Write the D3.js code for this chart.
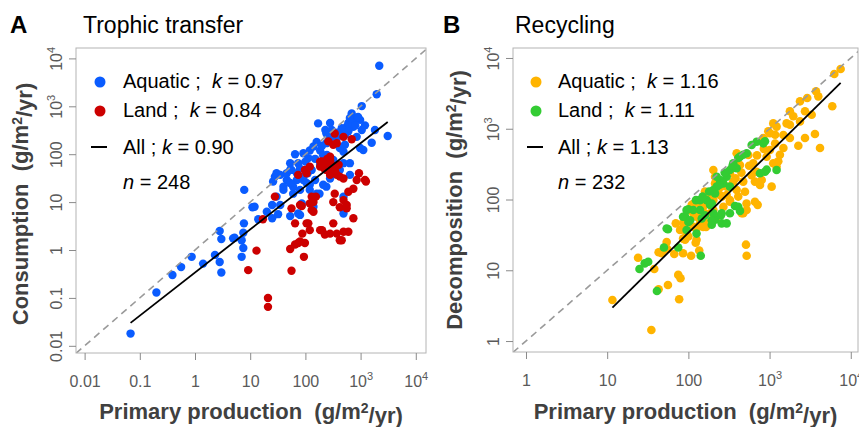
<!DOCTYPE html>
<html>
<head>
<meta charset="utf-8">
<script src="https://cdn.jsdelivr.net/npm/d3@7"></script>
<style>
  body { margin: 0; background: #fff; }
  svg { display: block; }
  text { font-family: "Liberation Sans", Arial, Helvetica, sans-serif; white-space: pre; }
</style>
</head>
<body>
<svg id="fig" width="859" height="427"></svg>
<script>
// ---- Panel A: trophic transfer, [primary production, consumption] in g/m2/yr ----
const trophicAquatic = [
  [0.068,0.018],[0.2,0.13],[0.39,0.30],[0.56,0.44],[0.87,0.72],[1.4,0.52],[2.3,0.79],[2.8,0.56],[3.0,0.34],
  [2.8,2.5],[3.0,1.7],[5.2,1.8],[7.0,0.72],[7.5,1.1],[7.0,1.6],[7.5,2.3],[7.7,3.6],[7.8,18],[11,7.8],[14,4.4],
  [20,6.3],[25,8.7],[25,4.6],[26,27],[32,5.6],[53,5.1],[74,5.8],[80,5.4],[490,5.8],[490,13],[28,34],[35,37],
  [40,18],[46,29],[53,47],[60,21],[70,29],[80,18],[92,29],[120,23],[160,15],[210,23],[86,9.4],[60,15],[30,13],
  [35,8.7],[12,8.0],[120,18],[140,8.0],[180,15],[240,21],[280,31],[370,47],[490,65],[640,37],[640,65],[420,47],
  [40,21],[30,40],[46,40],[53,25],[92,34],[105,25],[130,47],[150,29],[74,65],[53,65],[65,100],[92,105],[120,120],
  [160,180],[140,145],[185,120],[240,170],[230,320],[170,440],[240,270],[300,320],[370,215],[420,270],[560,375],
  [690,710],[740,375],[980,520],[1050,320],[850,230],[1050,1010],[1120,122],[490,113],[1590,174],[1820,320],
  [3100,240],[1960,1780],[2180,7000],[280,450],[455,350],[600,450],[850,570],[520,158],[420,135],[980,135],
  [113,83],[56,47],[4.9,1.75],[320,76],[185,60],[245,96],[640,570],
  [700,450],[800,400],[900,600],[1200,400],[600,300],[520,250],[380,280],[330,250],[270,200],[200,150],
  [210,95],[150,80],[100,70],[80,50],[110,40],[70,40]
];
const trophicLand = [
  [13,0.97],[9.2,0.38],[21,0.10],[21,0.065],[17,4.4],[28,13],[56,7.4],[65,3.6],[53,1.05],[56,0.37],[65,1.3],
  [74,1.4],[86,8.3],[88,2.2],[98,1.4],[94,0.72],[113,3.6],[120,2.6],[120,9.4],[140,6.3],[185,2.6],[225,2.1],
  [280,2.2],[320,3.6],[370,2.2],[490,2.4],[600,2.4],[420,1.6],[740,4.6],[320,10],[420,7.8],[560,8.7],[200,2.6],
  [130,6.8],[140,10],[130,13],[155,13],[340,15],[490,11],[600,16.5],[740,19],[850,29],[935,40],[1250,27],
  [74,37],[98,47],[120,55],[210,65],[240,47],[280,37],[420,34],[340,51],[340,270],[490,230],[690,205],[370,170],
  [260,185],[240,55],[185,55],[320,47],[370,37],[490,31],[280,89],[105,40],[1200,29],[80,8.7],[560,7.4],
  [105,3.6],[455,1.6],[80,1.5],[200,71],[320,158],[185,70],[250,80],[300,60],[400,60],
  [220,50],[260,62],[290,44],[350,42],[280,75]
];
const trophicStats = { kAquatic: "0.97", kLand: "0.84", kAll: 0.90, logIntercept: -0.47, n: 248 };

// ---- Panel B: recycling, [primary production, decomposition] in g/m2/yr ----
const recyclingAquatic = [
  [11.6,3.8],[35,1.43],[24,15],[38,10.4],[43,5.4],[56,6.2],[77,3.9],[75,8.6],[80,7.7],[43,18],[54,25],[67,17],
  [86,17.4],[70,46],[86,28],[95,33],[108,16],[123,24.5],[136,19],[152,41],[165,41],[126,64],[117,88],[105,71],
  [185,64],[223,57],[270,79],[325,93],[453,64],[520,88],[713,84],[660,93],[512,23],[522,16],[55,20],[91,27],
  [100,30],[126,39],[115,64],[110,84],[168,46],[152,79],[168,98],[185,110],[1220,1070],[1620,1190],[1480,816],
  [1170,620],[1110,325],[1060,152],[522,71],[498,129],[693,247],[800,189],[660,179],[474,179],[920,403],
  [1010,500],[630,325],[547,425],[432,307],[393,450],[325,235],[357,179],[393,136],[296,152],[325,98],[296,116],
  [245,116],[203,98],[185,116],[203,71],[152,67],[139,46],[126,57],[115,41],[86,46],[79,37],[126,27],[213,210],
  [203,261],[1110,1190],[1010,862],[7500,7000],[6270,5940],[5920,2080],[3730,3380],[3980,2870],[2910,2720],
  [2370,2440],[3300,1580],[2730,1770],[2370,1270],[1960,1500],[1780,1770],[1780,1140],[3620,843],[2730,740],
  [2260,576],[4180,535],[1780,740],[1480,535],[1170,824],[964,920],[837,740],[1340,430],[1280,347],[47,17.4],
  [213,169],[411,110],[762,160],[1220,291],[474,64],
  [560,300],[700,420],[850,520],[600,220],[450,240],[380,200],[250,150],[160,130],[140,85],[260,110]
];
const recyclingLand = [
  [41,5.1],[25,10.4],[29,12.5],[32,13.2],[50,21],[56,38],[75,21],[86,57],[100,48],[100,73],[126,33],[142,16],
  [146,54],[194,88],[213,52],[257,46],[252,60],[325,64],[375,81],[432,69],[91,58],[124,98],[139,98],[139,71],
  [160,60],[693,656],[837,622],[602,589],[522,450],[432,403],[357,325],[393,276],[325,261],[296,210],[245,189],
  [269,169],[223,152],[203,136],[325,152],[878,247],[762,235],[1220,261],[168,98],[185,84],[115,71],[203,64],
  [411,79],[257,64],[95,71],[105,51],[95,37],[54,39],[296,46],[194,44],[878,665],[474,430],[411,386],[921,264],
  [223,210],[213,122],[194,51],
  [280,240],[350,300],[240,160],[180,130],[150,110]
];
const recyclingStats = { kAquatic: "1.16", kLand: "1.11", kAll: 1.13, logIntercept: -0.73, n: 232 };

// Tick positions (powers of ten) for each panel
const trophicTicks = [0.01, 0.1, 1, 10, 100, 1000, 10000];
const recyclingTicks = [1, 10, 100, 1000, 10000];

const svg = d3.select("#fig");

function minorTicks(majors) {
  const out = [];
  for (let i = 0; i < majors.length - 1; i++)
    for (let m = 2; m <= 9; m++) out.push(majors[i] * m);
  return out;
}

// writes a tick label; thousands and above shown as 10 with superscript exponent
function writeLabel(textSel, v) {
  const e = Math.round(Math.log10(v));
  if (e >= 3) {
    textSel.append("tspan").text("10");
    textSel.append("tspan").attr("font-size", "11px").attr("dy", "-0.6em").text(String(e));
  } else {
    textSel.text(e < 0 ? v.toFixed(-e) : String(v));
  }
}

function drawPanel(cfg) {
  const g = svg.append("g");
  const x = d3.scaleLog().domain(cfg.xLim).range([cfg.left, cfg.right]);
  const y = d3.scaleLog().domain(cfg.yLim).range([cfg.bottom, cfg.top]);

  const clipId = "clip" + cfg.letter;
  svg.append("clipPath").attr("id", clipId).append("rect")
    .attr("x", cfg.left).attr("y", cfg.top)
    .attr("width", cfg.right - cfg.left).attr("height", cfg.bottom - cfg.top);

  const plot = g.append("g").attr("clip-path", `url(#${clipId})`);

  // points
  cfg.series.forEach(s => {
    plot.selectAll(null).data(s.data).join("circle")
      .attr("cx", d => x(d[0])).attr("cy", d => y(d[1]))
      .attr("r", cfg.r).attr("fill", s.color);
  });

  // 1:1 reference line
  const lo = Math.min(cfg.xLim[0], cfg.yLim[0]), hi = Math.max(cfg.xLim[1], cfg.yLim[1]);
  plot.append("line")
    .attr("x1", x(lo)).attr("y1", y(lo)).attr("x2", x(hi)).attr("y2", y(hi))
    .attr("stroke", "#9a9a9a").attr("stroke-width", 1.6).attr("stroke-dasharray", "7,5");

  // fitted power law across the data range
  const all = cfg.series.flatMap(s => s.data);
  const [xmin, xmax] = d3.extent(all, d => d[0]);
  const fit = v => Math.pow(10, cfg.stats.logIntercept + cfg.stats.kAll * Math.log10(v));
  plot.append("line")
    .attr("x1", x(xmin)).attr("y1", y(fit(xmin))).attr("x2", x(xmax)).attr("y2", y(fit(xmax)))
    .attr("stroke", "#000").attr("stroke-width", 1.8);

  // box
  g.append("rect")
    .attr("x", cfg.left).attr("y", cfg.top)
    .attr("width", cfg.right - cfg.left).attr("height", cfg.bottom - cfg.top)
    .attr("fill", "none").attr("stroke", "#b4b4b4").attr("stroke-width", 1);

  const tickColor = "#8a8a8a", labelColor = "#5a5a5a";

  // x axis
  const xMajor = cfg.ticks.filter(v => v >= cfg.xLim[0] && v <= cfg.xLim[1]);
  const xg = g.append("g").attr("transform", `translate(0,${cfg.bottom})`);
  xg.call(d3.axisBottom(x).tickValues(minorTicks(xMajor)).tickSize(4).tickSizeOuter(0).tickFormat(""));
  xg.call(d3.axisBottom(x).tickValues(xMajor).tickSize(7).tickSizeOuter(0).tickFormat(""));
  xg.select(".domain").remove();
  xg.selectAll("line").attr("stroke", tickColor);
  xg.selectAll(".tick").filter(d => xMajor.includes(d)).each(function (d) {
    const t = d3.select(this).append("text")
      .attr("y", 34).attr("text-anchor", "middle")
      .attr("fill", labelColor).attr("font-size", "16px");
    writeLabel(t, d);
  });

  // y axis
  const yMajor = cfg.ticks.filter(v => v >= cfg.yLim[0] && v <= cfg.yLim[1]);
  const yg = g.append("g").attr("transform", `translate(${cfg.left},0)`);
  yg.call(d3.axisLeft(y).tickValues(minorTicks(yMajor)).tickSize(4).tickSizeOuter(0).tickFormat(""));
  yg.call(d3.axisLeft(y).tickValues(yMajor).tickSize(7).tickSizeOuter(0).tickFormat(""));
  yg.select(".domain").remove();
  yg.selectAll("line").attr("stroke", tickColor);
  yg.selectAll(".tick").filter(d => yMajor.includes(d)).each(function (d) {
    const t = d3.select(this).append("text")
      .attr("transform", "translate(-14,0) rotate(-90)")
      .attr("text-anchor", "middle")
      .attr("fill", labelColor).attr("font-size", "16px");
    writeLabel(t, d);
  });

  // axis titles
  const title = (sel, main) => {
    sel.append("tspan").text(main + "  (g/m");
    sel.append("tspan").attr("font-size", "14px").attr("dy", "-0.45em").text("2");
    sel.append("tspan").attr("dy", "0.45em").text("/yr)");
  };
  g.append("text").attr("x", (cfg.left + cfg.right) / 2).attr("y", 419)
    .attr("text-anchor", "middle").attr("font-weight", "bold").attr("font-size", "22px")
    .attr("fill", "#404040").call(title, "Primary production");
  g.append("text")
    .attr("transform", `translate(${cfg.yTitleX},${cfg.yTitleY}) rotate(-90)`)
    .attr("text-anchor", "middle").attr("font-weight", "bold").attr("font-size", "22px")
    .attr("fill", "#404040").call(title, cfg.yTitle);

  // panel letter and heading
  g.append("text").attr("x", cfg.letterX).attr("y", 33)
    .attr("font-weight", "bold").attr("font-size", "24px").attr("fill", "#000").text(cfg.letter);
  g.append("text").attr("x", cfg.headX).attr("y", 33)
    .attr("font-size", "23px").attr("fill", "#000").text(cfg.heading);

  // legend
  const L = cfg.legend;
  const row = (yy, label, k) => {
    const t = g.append("text").attr("x", L.textX).attr("y", yy)
      .attr("font-size", "20px").attr("fill", "#000");
    t.append("tspan").text(label);
    t.append("tspan").attr("font-style", "italic").text("k");
    t.append("tspan").text(" = " + k);
  };
  cfg.series.forEach((s, i) => {
    const yy = L.rowY[i];
    g.append("circle").attr("cx", L.symX).attr("cy", yy - 6).attr("r", 5.5).attr("fill", s.color);
    row(yy, s.label + " ;  ", s.k);
  });
  g.append("line").attr("x1", L.symX - 9).attr("x2", L.symX + 7)
    .attr("y1", L.rowY[2] - 7).attr("y2", L.rowY[2] - 7)
    .attr("stroke", "#000").attr("stroke-width", 2);
  row(L.rowY[2], "All ; ", cfg.stats.kAll.toFixed(2));
  const nt = g.append("text").attr("x", L.textX).attr("y", L.rowY[3])
    .attr("font-size", "20px").attr("fill", "#000");
  nt.append("tspan").attr("font-style", "italic").text("n");
  nt.append("tspan").text(" = " + cfg.stats.n);
}

drawPanel({
  letter: "A", letterX: 10, heading: "Trophic transfer", headX: 83,
  left: 76, right: 426, top: 48, bottom: 353,
  xLim: [Math.pow(10, -2.156), Math.pow(10, 4.185)],
  yLim: [Math.pow(10, -2.15), Math.pow(10, 4.217)],
  ticks: trophicTicks, r: 4.2,
  yTitle: "Consumption", yTitleX: 28, yTitleY: 204,
  stats: trophicStats,
  series: [
    { label: "Aquatic", k: trophicStats.kAquatic, color: "#0a5cff", data: trophicAquatic },
    { label: "Land", k: trophicStats.kLand, color: "#cc0000", data: trophicLand }
  ],
  legend: { symX: 100, textX: 123, rowY: [88, 117, 154, 189] }
});

drawPanel({
  letter: "B", letterX: 443, heading: "Recycling", headX: 515,
  left: 513, right: 858, top: 48, bottom: 352,
  xLim: [Math.pow(10, -0.16), Math.pow(10, 4.089)],
  yLim: [Math.pow(10, -0.155), Math.pow(10, 4.141)],
  ticks: recyclingTicks, r: 4.3,
  yTitle: "Decomposition", yTitleX: 462, yTitleY: 200,
  stats: recyclingStats,
  series: [
    { label: "Aquatic", k: recyclingStats.kAquatic, color: "#ffb400", data: recyclingAquatic },
    { label: "Land", k: recyclingStats.kLand, color: "#33cc33", data: recyclingLand }
  ],
  legend: { symX: 536, textX: 558, rowY: [88, 117, 154, 189] }
});
</script>
</body>
</html>
